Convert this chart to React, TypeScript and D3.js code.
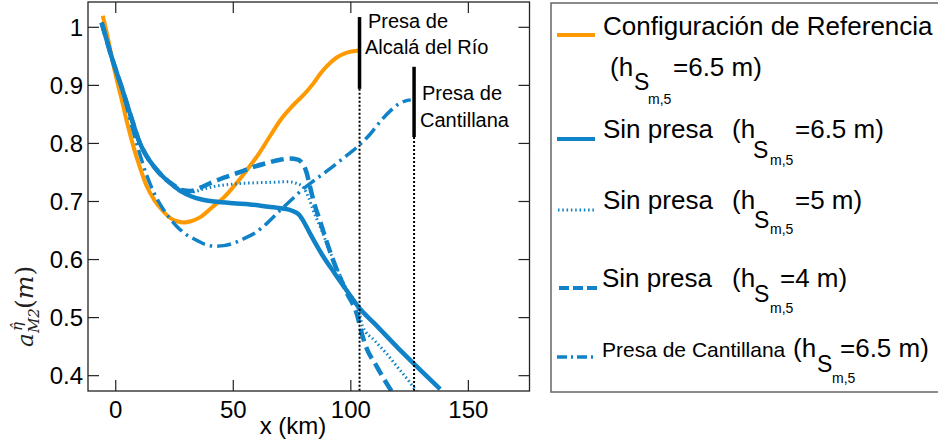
import React from 'react';
import * as d3 from 'd3';

type Pt = [number, number];

// Amplitude of the M2 tidal elevation (m) along the estuary (x in km)
const referenceConfig: Pt[] = [
  [-5.5, 1.02], [-3, 0.975], [-1, 0.935], [1, 0.9], [2.5, 0.876], [5, 0.833], [7.5, 0.795],
  [10, 0.762], [13, 0.728], [16.5, 0.702], [20, 0.684], [23, 0.672], [26, 0.666], [29, 0.664],
  [32, 0.666], [36, 0.673], [41, 0.69], [46, 0.707], [50, 0.725], [55, 0.75], [61, 0.783],
  [66, 0.815], [70, 0.84], [75, 0.864], [80, 0.884], [84, 0.903], [87, 0.92], [90, 0.934],
  [94, 0.948], [98, 0.956], [103.5, 0.96],
];

const noDam65: Pt[] = [
  [-6, 1.008], [-4, 0.98], [-2, 0.952], [0, 0.927], [2.5, 0.897], [5, 0.865], [7.5, 0.833],
  [10, 0.803], [13, 0.779], [16.5, 0.759], [20, 0.743], [24, 0.729], [28, 0.717], [32, 0.709],
  [37, 0.703], [42, 0.7], [50, 0.697], [57, 0.695], [65, 0.691], [71, 0.688], [75, 0.684],
  [78, 0.677], [80, 0.665], [82.5, 0.646], [88, 0.607], [93, 0.577], [98, 0.548], [103.5, 0.517],
  [110, 0.49], [120, 0.448], [127, 0.42], [138, 0.377],
];

const noDam5: Pt[] = [
  [-6, 1.008], [-4, 0.98], [-2, 0.952], [0, 0.927], [2.5, 0.897], [5, 0.865], [7.5, 0.833],
  [10, 0.803], [13, 0.779], [16.5, 0.759], [20, 0.743], [24, 0.73], [28, 0.72], [32, 0.716],
  [37, 0.721], [42, 0.726], [50, 0.73], [58, 0.732], [66, 0.733], [73, 0.734], [77, 0.731],
  [80, 0.723], [82, 0.707], [84, 0.685], [87, 0.656], [92, 0.605], [98, 0.55], [103.5, 0.51],
  [105, 0.485], [110, 0.461], [115, 0.439], [120, 0.414], [125, 0.389], [128, 0.372],
];

const noDam4: Pt[] = [
  [-6, 1.008], [-4, 0.98], [-2, 0.952], [0, 0.927], [2.5, 0.897], [5, 0.865], [7.5, 0.833],
  [10, 0.803], [13, 0.779], [16.5, 0.759], [20, 0.743], [24, 0.73], [28, 0.72], [32, 0.718],
  [36, 0.724], [41, 0.733], [46, 0.741], [53, 0.751], [59, 0.76], [65, 0.767], [70, 0.772],
  [74, 0.774], [77.5, 0.772], [79.5, 0.765], [81, 0.752], [82.5, 0.728], [84, 0.703],
  [87, 0.665], [92, 0.604], [98, 0.545], [103, 0.5], [104.5, 0.475], [106, 0.455],
  [111, 0.416], [117.5, 0.372],
];

const cantillanaDam: Pt[] = [
  [-6, 1.008], [-4, 0.98], [-2, 0.952], [0, 0.926], [2.5, 0.894], [5, 0.858], [7.5, 0.82],
  [10, 0.785], [13, 0.747], [16.5, 0.713], [20, 0.688], [23, 0.671], [26, 0.657], [30, 0.643],
  [34.5, 0.633], [38, 0.626], [42, 0.623], [46, 0.624], [50, 0.628], [55, 0.637], [60, 0.648],
  [65, 0.665], [70, 0.685], [75, 0.704], [79, 0.719], [84, 0.735], [90, 0.753], [96, 0.772],
  [103, 0.795], [108, 0.815], [113, 0.84], [117, 0.857], [120, 0.867], [123, 0.873], [125.5, 0.875],
];

const xTicks = [0, 50, 100, 150];
const yTicks = [0.4, 0.5, 0.6, 0.7, 0.8, 0.9, 1];

// Dam locations (km) and the extent of their markers (m)
const damAlcala = { x: 103.7, top: 1.0177, bottom: 0.894 };
const damCantillana = { x: 126.9, top: 0.932, bottom: 0.811 };

const ORANGE = '#ff9900';
const BLUE = '#0f82c8';
const SANS = '"Liberation Sans", Arial, sans-serif';

const left = 88, right = 529.5, top = 2, bottom = 391;

export default function App() {
  const x = d3.scaleLinear().domain([-11.8, 176]).range([left, right]);
  const y = d3.scaleLinear().domain([0.3736, 1.0436]).range([bottom, top]);
  const line = d3
    .line<Pt>()
    .x((d) => x(d[0]))
    .y((d) => y(d[1]))
    .curve(d3.curveMonotoneX);

  const series = [
    { data: referenceConfig, color: ORANGE, width: 4, dash: undefined },
    { data: cantillanaDam, color: BLUE, width: 3.5, dash: '14 5 2.5 5' },
    { data: noDam5, color: BLUE, width: 3, dash: '1.5 2.8' },
    { data: noDam4, color: BLUE, width: 4.5, dash: '13 6' },
    { data: noDam65, color: BLUE, width: 4.5, dash: undefined },
  ];

  const dams = [damAlcala, damCantillana];

  return (
    <svg
      width={938}
      height={446}
      style={{ position: 'absolute', left: 0, top: 0, background: '#fff' }}
      fontFamily={SANS}
    >
      <defs>
        <clipPath id="plotArea">
          <rect x={left} y={top} width={right - left} height={bottom - top} />
        </clipPath>
      </defs>
      <rect x={0} y={0} width={938} height={446} fill="#fff" />

      {/* curves */}
      <g clipPath="url(#plotArea)">
        {series.map((s, i) => (
          <path
            key={i}
            d={line(s.data) || ''}
            fill="none"
            stroke={s.color}
            strokeWidth={s.width}
            strokeDasharray={s.dash}
            strokeLinejoin="round"
          />
        ))}
      </g>

      {/* dam markers */}
      {dams.map((d, i) => (
        <g key={i}>
          <line x1={x(d.x)} x2={x(d.x)} y1={y(d.top)} y2={y(d.bottom)} stroke="#000" strokeWidth={3.5} />
          <line
            x1={x(d.x)}
            x2={x(d.x)}
            y1={y(d.bottom)}
            y2={bottom}
            stroke="#000"
            strokeWidth={2}
            strokeDasharray="2 2"
          />
        </g>
      ))}
      <g fontSize={20} fill="#000">
        <text x={368} y={28}>Presa de</text>
        <text x={365} y={54}>Alcalá del Río</text>
        <text x={422} y={100}>Presa de</text>
        <text x={420} y={127}>Cantillana</text>
      </g>

      {/* frame and ticks */}
      <rect x={left} y={top} width={right - left} height={bottom - top} fill="none" stroke="#222" strokeWidth={1.3} />
      {xTicks.map((t) => (
        <g key={'x' + t}>
          <line x1={x(t)} x2={x(t)} y1={bottom} y2={bottom - 11} stroke="#222" strokeWidth={1.2} />
          <line x1={x(t)} x2={x(t)} y1={top} y2={top + 11} stroke="#222" strokeWidth={1.2} />
          <text x={x(t)} y={418} fontSize={24} textAnchor="middle">
            {t}
          </text>
        </g>
      ))}
      {yTicks.map((t) => (
        <g key={'y' + t}>
          <line x1={left} x2={left + 11} y1={y(t)} y2={y(t)} stroke="#222" strokeWidth={1.2} />
          <line x1={right} x2={right - 11} y1={y(t)} y2={y(t)} stroke="#222" strokeWidth={1.2} />
          <text x={83} y={y(t)} fontSize={24} textAnchor="end" dominantBaseline="central">
            {String(t)}
          </text>
        </g>
      ))}
      <text x={293} y={434} fontSize={24} textAnchor="middle">
        x (km)
      </text>

      {/* y-axis label */}
      <g transform="translate(33,347) rotate(-90)" fontFamily='"DejaVu Serif", serif' fill="#222">
        <text x={0} y={0} fontSize={23} fontStyle="italic">a</text>
        <text x={16} y={-11} fontSize={15} fontStyle="italic">{'η\u0302'}</text>
        <text x={14} y={6} fontSize={15} fontStyle="italic">M2</text>
        <text x={38} y={0} fontSize={25}>
          (<tspan fontStyle="italic">m</tspan>)
        </text>
      </g>

      {/* legend */}
      <rect x={551} y={3} width={400} height={389} fill="none" stroke="#666" strokeWidth={1.5} />
      <g fill="#000">
        <line x1={557} x2={595} y1={35} y2={35} stroke={ORANGE} strokeWidth={4} />
        <text x={603} y={35} fontSize={26}>Configuración de Referencia</text>
        <text x={610} y={76} fontSize={26}>(h</text>
        <text x={634} y={90} fontSize={23}>S</text>
        <text x={648} y={104} fontSize={14}>m,5</text>
        <text x={673} y={76} fontSize={26}>=6.5 m)</text>

        <line x1={557} x2={595} y1={139} y2={139} stroke={BLUE} strokeWidth={4} />
        <text x={603} y={138} fontSize={26}>Sin presa</text>
        <text x={732} y={138} fontSize={26}>(h</text>
        <text x={753} y={158} fontSize={23}>S</text>
        <text x={770} y={165} fontSize={14}>m,5</text>
        <text x={795} y={138} fontSize={26}>=6.5 m)</text>

        <line x1={558} x2={595} y1={210} y2={210} stroke={BLUE} strokeWidth={3} strokeDasharray="1.5 2.8" />
        <text x={603} y={209} fontSize={26}>Sin presa</text>
        <text x={732} y={209} fontSize={26}>(h</text>
        <text x={754} y={228} fontSize={23}>S</text>
        <text x={770} y={234} fontSize={14}>m,5</text>
        <text x={795} y={209} fontSize={26}>=5 m)</text>

        <line x1={559} x2={597} y1={288} y2={288} stroke={BLUE} strokeWidth={4} strokeDasharray="10 4" />
        <text x={602} y={287} fontSize={26}>Sin presa</text>
        <text x={732} y={287} fontSize={26}>(h</text>
        <text x={754} y={302} fontSize={23}>S</text>
        <text x={770} y={313} fontSize={14}>m,5</text>
        <text x={780} y={287} fontSize={26}>=4 m)</text>

        <line x1={557} x2={596} y1={357} y2={357} stroke={BLUE} strokeWidth={3.5} strokeDasharray="10 4 2 4" />
        <text x={602} y={357} fontSize={21}>Presa de Cantillana</text>
        <text x={793} y={357} fontSize={26}>(h</text>
        <text x={817} y={372} fontSize={23}>S</text>
        <text x={832} y={383} fontSize={14}>m,5</text>
        <text x={840} y={357} fontSize={26}>=6.5 m)</text>
      </g>
    </svg>
  );
}
